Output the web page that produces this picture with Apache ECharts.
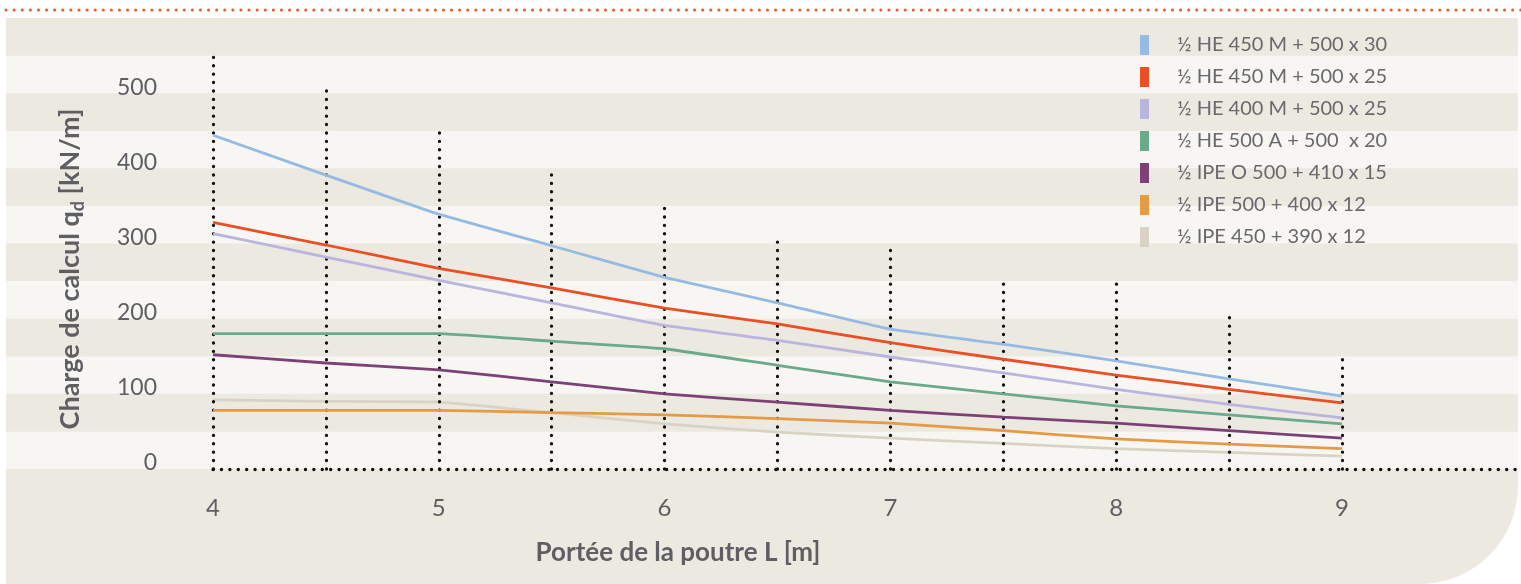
<!DOCTYPE html>
<html lang="fr">
<head>
    <meta charset="UTF-8">
    <title>Charge de calcul</title>
    <style>
        * { margin: 0; padding: 0; }
        body { background: #ffffff; }
        #chart { width: 1521px; height: 584px; }
    </style>
</head>
<body>
    <div id="chart"></div>
    <script src="https://cdn.jsdelivr.net/npm/echarts@6/dist/echarts.min.js"></script>
    <script>
        // portée L [m]
        var spans = [4, 4.5, 5, 5.5, 6, 6.5, 7, 7.5, 8, 8.5, 9];

        // charge de calcul qd [kN/m]
        var he450m30 = [444, 391, 339, 297, 255, 221, 186, 166, 144, 120, 97];
        var he450m25 = [328, 298, 267, 241, 214, 193, 168, 146, 125, 106, 88];
        var he400m25 = [313, 282, 251, 221, 191, 171, 149, 128, 106, 86, 68];
        var he500a20 = [180, 180, 180, 170, 160, 138, 116, 100, 84, 72, 60];
        var ipeo500 = [152, 141, 132, 116, 100, 89, 78, 69, 61, 51, 41];
        var ipe500 = [78, 78, 78, 75, 72, 67, 61, 51, 40, 33, 27];
        var ipe450 = [92, 90, 89, 75, 60, 49, 41, 34, 27, 22, 17];

        var names = [
            '½ HE 450 M + 500 x 30',
            '½ HE 450 M + 500 x 25',
            '½ HE 400 M + 500 x 25',
            '½ HE 500 A + 500  x 20',
            '½ IPE O 500 + 410 x 15',
            '½ IPE 500 + 400 x 12',
            '½ IPE 450 + 390 x 12'
        ];
        var colors = ['#96bbe2', '#ea4f25', '#b9b5df', '#6aa98a', '#7d4177', '#e59a46', '#d9d3c4'];

        // pointillés verticaux : position et hauteur
        var guideX = [4, 4.5, 5, 5.5, 6, 6.5, 7, 7.5, 8, 8.5, 9];
        var guideTop = [553, 505, 453, 402, 355, 306, 299, 255, 253, 204, 153];

        var yTicks = [0, 100, 200, 300, 400, 500];
        var xTicks = [4, 5, 6, 7, 8, 9];

        var xMin = 3.083, xMax = 9.78;
        var grey = '#5e5e63';
        var font = 'Lato';

        var chart = echarts.init(document.getElementById('chart'));

        function pairs(vals) {
            return spans.map(function (x, i) { return [x, vals[i]]; });
        }

        var allData = [he450m30, he450m25, he400m25, he500a20, ipeo500, ipe500, ipe450];
        var series = allData.map(function (vals, i) {
            return {
                name: names[i],
                type: 'line',
                data: pairs(vals),
                showSymbol: false,
                smooth: 0.1,
                lineStyle: { width: 2.8, color: colors[i] },
                itemStyle: { color: colors[i] },
                z: 10 - i
            };
        });

        var dotted = { color: '#111', width: 3.3, type: [0.1, 8.3], cap: 'round' };
        var guides = guideX.map(function (x, i) {
            return [{ coord: [x, 0] }, { coord: [x, guideTop[i]] }];
        });
        guides.push([{ coord: [4, 0] }, { coord: [xMax, 0] }]);

        series.push({
            type: 'line',
            data: [],
            silent: true,
            markLine: {
                silent: true,
                symbol: 'none',
                label: { show: false },
                lineStyle: dotted,
                data: guides
            },
            z: 1
        });

        var option = {
            animation: false,
            backgroundColor: '#ffffff',
            textStyle: { fontFamily: font },
            graphic: [
                {
                    type: 'rect',
                    z: -10,
                    shape: { x: 6, y: 18, width: 1512, height: 566, r: [0, 0, 98, 0] },
                    style: { fill: '#ece9e1' }
                },
                {
                    type: 'line',
                    z: -10,
                    shape: { x1: 6, y1: 10, x2: 1521, y2: 10 },
                    style: { stroke: '#ee5a2c', lineWidth: 3, lineDash: [0.1, 8], lineCap: 'round' }
                }
            ],
            legend: {
                left: 1135,
                top: 30,
                orient: 'vertical',
                icon: 'rect',
                itemWidth: 9,
                itemHeight: 20,
                itemGap: 12,
                data: names,
                textStyle: { color: '#69696d', fontSize: 20, fontFamily: font, padding: [0, 0, 0, 23] }
            },
            grid: { left: 6, right: 3, top: 18, bottom: 115 },
            xAxis: {
                type: 'value',
                min: xMin,
                max: xMax,
                name: 'Portée de la poutre L [m]',
                nameLocation: 'middle',
                nameGap: 71,
                nameTextStyle: {
                    color: grey, fontSize: 26, fontWeight: 'bold', fontFamily: font,
                    padding: [0, 168, 0, 0]
                },
                axisLine: { show: false },
                axisTick: { show: false },
                splitLine: { show: false },
                axisLabel: {
                    customValues: xTicks,
                    color: grey,
                    fontSize: 24,
                    fontFamily: font,
                    margin: 27
                }
            },
            yAxis: {
                type: 'value',
                min: 0,
                max: 600,
                interval: 50,
                offset: -159,
                name: '{a|Charge de calcul q}{s|d}{a| [kN/m]}',
                nameLocation: 'middle',
                nameGap: 78,
                nameTextStyle: {
                    padding: [0, 51, 0, 0],
                    rich: {
                        a: { color: grey, fontSize: 27, fontWeight: 'bold', fontFamily: font },
                        s: { color: grey, fontSize: 18, fontWeight: 'bold', fontFamily: font, padding: [15, 0, 0, 0] }
                    }
                },
                axisLine: { show: false },
                axisTick: { show: false },
                splitLine: { show: false },
                splitArea: {
                    show: true,
                    areaStyle: { color: ['#f7f6f2', '#ece9e1'] }
                },
                axisLabel: {
                    customValues: yTicks,
                    color: grey,
                    fontSize: 23,
                    fontFamily: font,
                    margin: 8,
                    verticalAlign: 'bottom',
                    lineHeight: 12
                }
            },
            series: series
        };

        chart.setOption(option);
    </script>
</body>
</html>
